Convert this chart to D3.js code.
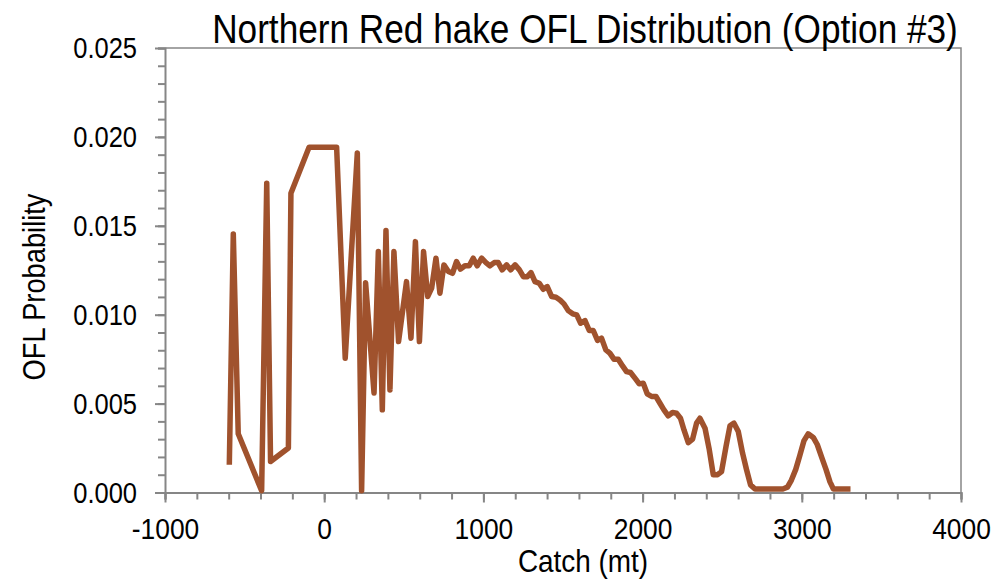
<!DOCTYPE html>
<html>
<head>
<meta charset="utf-8">
<script src="https://cdn.jsdelivr.net/npm/d3@7"></script>
<style>
  body { margin: 0; background: #fff; }
  svg text { font-family: "Liberation Sans Narrow", "Liberation Sans", Arial, sans-serif; fill: #000; }
</style>
</head>
<body>
<div id="chart"></div>
<script>
// data
const catchMt = [
  -596, -571, -540, -393, -361, -337, -225, -209, -95, 78, 132, 208, 235, 260, 313, 340, 365, 388, 413, 438,
  467, 517, 545, 573, 598, 624, 650, 675, 702, 727, 752, 780, 806, 831, 856, 884, 911, 936, 961, 989,
  1016, 1041, 1068, 1093, 1118, 1146, 1171, 1199, 1226, 1251, 1276, 1299, 1324, 1351, 1376, 1401, 1429, 1456, 1481, 1506,
  1533, 1561, 1586, 1611, 1638, 1665, 1690, 1717, 1742, 1769, 1794, 1820, 1847, 1874, 1899, 1924, 1952, 1979, 2004, 2029,
  2057, 2084, 2109, 2134, 2161, 2188, 2213, 2238, 2260, 2287, 2314, 2339, 2360, 2392, 2419, 2444, 2471, 2496, 2524, 2549,
  2574, 2601, 2628, 2653, 2678, 2706, 2731, 2756, 2781, 2806, 2831, 2856, 2881, 2910, 2935, 2962, 2988, 3013, 3040, 3072,
  3097, 3124, 3152, 3177, 3198, 3225, 3250, 3275, 3306
];
const oflProb = [
  0.00156, 0.01454, 0.0033, 0.0001, 0.0174, 0.00174, 0.0025, 0.01683, 0.01942, 0.01942, 0.00755, 0.0191, 0.0001, 0.0118, 0.00559, 0.01355, 0.00465, 0.01473, 0.00577, 0.01355,
  0.00849, 0.01186, 0.00868, 0.01411, 0.00849, 0.01355, 0.01102, 0.0115, 0.01318, 0.01121, 0.0128, 0.01243, 0.01233, 0.01299, 0.01256, 0.01275, 0.01275, 0.01318, 0.01275, 0.01318,
  0.01293, 0.01275, 0.01293, 0.01293, 0.01252, 0.0128, 0.01252, 0.0128, 0.01252, 0.01214, 0.01214, 0.01237, 0.01186, 0.01177, 0.01143, 0.01158, 0.01102, 0.01098, 0.01083, 0.01061,
  0.01023, 0.01005, 0.00999, 0.00952, 0.00967, 0.00911, 0.00911, 0.00855, 0.00868, 0.00802, 0.00784, 0.0075, 0.0075, 0.00712, 0.0068, 0.00675, 0.00643, 0.00611, 0.00615, 0.00555,
  0.0054, 0.0054, 0.00502, 0.00465, 0.00431, 0.0045, 0.00446, 0.00418, 0.00352, 0.0028, 0.003, 0.0039, 0.00418, 0.00362, 0.0024, 0.001, 0.001, 0.00118, 0.00259, 0.00375,
  0.0039, 0.00343, 0.00221, 0.00128, 0.00043, 0.0002, 0.0002, 0.0002, 0.0002, 0.0002, 0.0002, 0.0002, 0.0002, 0.0003, 0.0007, 0.0013, 0.0021, 0.0029, 0.0033, 0.0031,
  0.0027, 0.002, 0.0013, 0.0006, 0.0002, 0.0002, 0.0002, 0.0002, 0.0002
];
const xTickLabels = [-1000, 0, 1000, 2000, 3000, 4000];
const yTickLabels = [0, 0.005, 0.01, 0.015, 0.02, 0.025];

const W = 994, H = 580;
const plot = { left: 165, top: 48, right: 961, bottom: 492.5 };
const axisColor = '#868686';

const svg = d3.select('#chart').append('svg')
  .attr('width', W).attr('height', H);

// squeeze text horizontally to look like the narrow font of the original
function narrow(sel, f) {
  sel.each(function() {
    const t = d3.select(this);
    const x0 = +t.attr('x') || 0;
    t.attr('x', x0 / f).attr('transform', `scale(${f},1)`);
  });
}

const x = d3.scaleLinear().domain([-1000, 4000]).range([plot.left, plot.right]);
const y = d3.scaleLinear().domain([0, 0.025]).range([plot.bottom, plot.top]);

// frame top/right
svg.append('path')
  .attr('d', `M${plot.left},${plot.top}H${plot.right}V${plot.bottom}`)
  .attr('fill', 'none').attr('stroke', axisColor).attr('stroke-width', 1.5);

// minor ticks
const xMinor = d3.axisBottom(x).tickValues(d3.range(-1000, 4001, 200)).tickSize(7).tickFormat('');
const yMinor = d3.axisLeft(y).tickValues(d3.range(0, 0.02501, 0.001)).tickSize(7).tickFormat('');

svg.append('g').attr('transform', `translate(0,${plot.bottom})`).call(xMinor)
  .call(g => g.selectAll('line,path').attr('stroke', axisColor).attr('stroke-width', 2));
svg.append('g').attr('transform', `translate(${plot.left},0)`).call(yMinor)
  .call(g => g.selectAll('line,path').attr('stroke', axisColor).attr('stroke-width', 2));

// major ticks + labels
const xAxis = d3.axisBottom(x).tickValues(xTickLabels).tickSize(10).tickPadding(15)
  .tickFormat(d => String(d));
const yAxis = d3.axisLeft(y).tickValues(yTickLabels).tickSize(10).tickPadding(18).tickFormat(d3.format('.3f'));

svg.append('g').attr('transform', `translate(0,${plot.bottom})`).call(xAxis)
  .call(g => g.select('.domain').remove())
  .call(g => g.selectAll('line').attr('stroke', axisColor).attr('stroke-width', 2))
  .call(g => g.selectAll('text').style('font-size', '30px').attr('fill', '#000').call(narrow, 0.88));
svg.append('g').attr('transform', `translate(${plot.left},0)`).call(yAxis)
  .call(g => g.select('.domain').remove())
  .call(g => g.selectAll('line').attr('stroke', axisColor).attr('stroke-width', 2))
  .call(g => g.selectAll('text').style('font-size', '30px').attr('fill', '#000').call(narrow, 0.85));

// series line
const line = d3.line().x((d, i) => x(catchMt[i])).y(d => y(d));
svg.append('path')
  .datum(oflProb)
  .attr('d', line)
  .attr('fill', 'none')
  .attr('stroke', '#A0522D')
  .attr('stroke-width', 5.5)
  .attr('stroke-linejoin', 'round');

// titles
svg.append('g').attr('transform', 'translate(585,43)')
  .append('text')
  .attr('text-anchor', 'middle')
  .style('font-size', '40px')
  .text('Northern Red hake OFL Distribution (Option #3)')
  .call(narrow, 0.88);

svg.append('g').attr('transform', 'translate(583,572)')
  .append('text')
  .attr('text-anchor', 'middle')
  .style('font-size', '31px')
  .text('Catch (mt)')
  .call(narrow, 0.9);

svg.append('g').attr('transform', 'translate(45,287) rotate(-90)')
  .append('text')
  .attr('text-anchor', 'middle')
  .style('font-size', '31px')
  .text('OFL Probability')
  .call(narrow, 0.88);
</script>
</body>
</html>
